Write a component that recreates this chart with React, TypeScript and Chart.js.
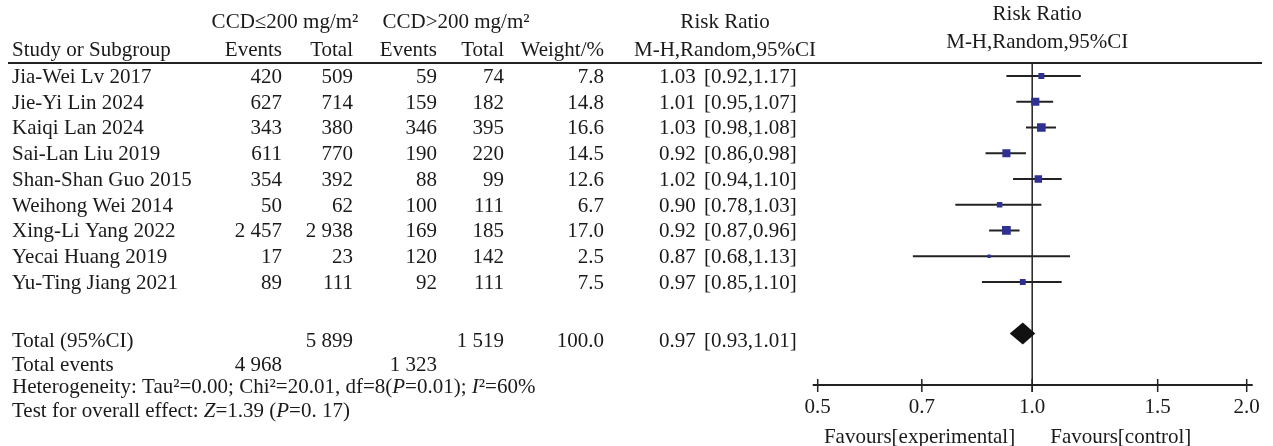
import React, { useEffect, useRef } from 'react';
import { Chart, registerables } from 'chart.js';

Chart.register(...registerables);

const studies = [
  'Jia-Wei Lv 2017',
  'Jie-Yi Lin 2024',
  'Kaiqi Lan 2024',
  'Sai-Lan Liu 2019',
  'Shan-Shan Guo 2015',
  'Weihong Wei 2014',
  'Xing-Li Yang 2022',
  'Yecai Huang 2019',
  'Yu-Ting Jiang 2021',
];
const expEvents = [420, 627, 343, 611, 354, 50, 2457, 17, 89];
const expTotal = [509, 714, 380, 770, 392, 62, 2938, 23, 111];
const ctrlEvents = [59, 159, 346, 190, 88, 100, 169, 120, 92];
const ctrlTotal = [74, 182, 395, 220, 99, 111, 185, 142, 111];
const weights = [7.8, 14.8, 16.6, 14.5, 12.6, 6.7, 17.0, 2.5, 7.5];
const riskRatio = [1.03, 1.01, 1.03, 0.92, 1.02, 0.9, 0.92, 0.87, 0.97];
const ciLower = [0.92, 0.95, 0.98, 0.86, 0.94, 0.78, 0.87, 0.68, 0.85];
const ciUpper = [1.17, 1.07, 1.08, 0.98, 1.1, 1.03, 0.96, 1.13, 1.1];

const overallRR = 0.97;
const overallLower = 0.93;
const overallUpper = 1.01;
const totalWeight = 100.0;
const xTicks = [0.5, 0.7, 1.0, 1.5, 2.0];

const FONT = "'Liberation Serif', 'Times New Roman', serif";
const FS = 21;
const TEXT = '#1a1a1a';

const fmtInt = (n: number) => String(n).replace(/\B(?=(\d{3})+(?!\d))/g, ' ');
const sum = (a: number[]) => a.reduce((s, v) => s + v, 0);

function drawText(ctx: CanvasRenderingContext2D, s: string, x: number, y: number, align: CanvasTextAlign = 'left', italic = false) {
  ctx.font = `${italic ? 'italic ' : ''}${FS}px ${FONT}`;
  ctx.textAlign = align;
  ctx.textBaseline = 'alphabetic';
  ctx.fillStyle = TEXT;
  ctx.fillText(s, x, y);
}

function drawRich(ctx: CanvasRenderingContext2D, parts: [string, boolean][], x: number, y: number) {
  let cx = x;
  for (const [s, it] of parts) {
    ctx.font = `${it ? 'italic ' : ''}${FS}px ${FONT}`;
    ctx.textAlign = 'left';
    ctx.textBaseline = 'alphabetic';
    ctx.fillStyle = TEXT;
    ctx.fillText(s, cx, y);
    cx += ctx.measureText(s).width;
  }
}

const forestPlugin = {
  id: 'forest',
  beforeDatasetsDraw(chart: any) {
    const ctx: CanvasRenderingContext2D = chart.ctx;
    const xs = chart.scales.x;
    const area = chart.chartArea;
    ctx.save();
    ctx.strokeStyle = '#222';
    // header rule
    ctx.lineWidth = 2;
    ctx.beginPath();
    ctx.moveTo(8, area.top);
    ctx.lineTo(1262, area.top);
    ctx.stroke();
    // line of no effect
    const x1 = xs.getPixelForValue(1);
    ctx.lineWidth = 1.5;
    ctx.beginPath();
    ctx.moveTo(x1, area.top);
    ctx.lineTo(x1, area.bottom + 7);
    ctx.stroke();
    // axis
    ctx.lineWidth = 2;
    ctx.beginPath();
    ctx.moveTo(area.left - 5, area.bottom);
    ctx.lineTo(area.right + 6, area.bottom);
    ctx.stroke();
    ctx.lineWidth = 1.5;
    for (const v of xTicks) {
      const px = xs.getPixelForValue(v);
      ctx.beginPath();
      ctx.moveTo(px, area.bottom - 6);
      ctx.lineTo(px, area.bottom + 7);
      ctx.stroke();
    }
    ctx.restore();
  },
  afterDatasetsDraw(chart: any) {
    const ctx: CanvasRenderingContext2D = chart.ctx;
    const xs = chart.scales.x;
    const ys = chart.scales.y;
    const area = chart.chartArea;
    ctx.save();
    // overall diamond
    const dy = ys.getPixelForValue(10);
    const h = 11;
    ctx.fillStyle = '#111';
    ctx.beginPath();
    ctx.moveTo(xs.getPixelForValue(overallLower), dy);
    ctx.lineTo(xs.getPixelForValue(overallRR), dy - h);
    ctx.lineTo(xs.getPixelForValue(overallUpper), dy);
    ctx.lineTo(xs.getPixelForValue(overallRR), dy + h);
    ctx.closePath();
    ctx.fill();

    // column positions
    const cStudy = 12;
    const cE1 = 282;
    const cT1 = 353;
    const cE2 = 437;
    const cT2 = 504;
    const cW = 604;
    const cRR = 659;
    const cCI = 704;
    const cRRhead = 725;
    const x1 = xs.getPixelForValue(1);

    // header
    const h1 = area.top - 35;
    const h2 = area.top - 7;
    drawText(ctx, 'CCD\u2264200 mg/m\u00b2', 285, h1, 'center');
    drawText(ctx, 'CCD>200 mg/m\u00b2', 456, h1, 'center');
    drawText(ctx, 'Risk Ratio', cRRhead, h1, 'center');
    drawText(ctx, 'Study or Subgroup', cStudy, h2);
    drawText(ctx, 'Events', cE1, h2, 'right');
    drawText(ctx, 'Total', cT1, h2, 'right');
    drawText(ctx, 'Events', cE2, h2, 'right');
    drawText(ctx, 'Total', cT2, h2, 'right');
    drawText(ctx, 'Weight/%', cW, h2, 'right');
    drawText(ctx, 'M-H,Random,95%CI', cRRhead, h2, 'center');
    drawText(ctx, 'Risk Ratio', x1 + 5, area.top - 43, 'center');
    drawText(ctx, 'M-H,Random,95%CI', x1 + 5, area.top - 15, 'center');

    // study rows
    studies.forEach((s, i) => {
      const y = ys.getPixelForValue(i) + 7;
      drawText(ctx, s, cStudy, y);
      drawText(ctx, fmtInt(expEvents[i]), cE1, y, 'right');
      drawText(ctx, fmtInt(expTotal[i]), cT1, y, 'right');
      drawText(ctx, fmtInt(ctrlEvents[i]), cE2, y, 'right');
      drawText(ctx, fmtInt(ctrlTotal[i]), cT2, y, 'right');
      drawText(ctx, weights[i].toFixed(1), cW, y, 'right');
      drawText(ctx, riskRatio[i].toFixed(2), cRR, y);
      drawText(ctx, `[${ciLower[i].toFixed(2)},${ciUpper[i].toFixed(2)}]`, cCI, y);
    });

    // totals
    const yt = ys.getPixelForValue(10.25) + 7;
    drawText(ctx, 'Total (95%CI)', cStudy, yt);
    drawText(ctx, fmtInt(sum(expTotal)), cT1, yt, 'right');
    drawText(ctx, fmtInt(sum(ctrlTotal)), cT2, yt, 'right');
    drawText(ctx, totalWeight.toFixed(1), cW, yt, 'right');
    drawText(ctx, overallRR.toFixed(2), cRR, yt);
    drawText(ctx, `[${overallLower.toFixed(2)},${overallUpper.toFixed(2)}]`, cCI, yt);

    const ye = ys.getPixelForValue(11.17) + 7;
    drawText(ctx, 'Total events', cStudy, ye);
    drawText(ctx, fmtInt(sum(expEvents)), cE1, ye, 'right');
    drawText(ctx, fmtInt(sum(ctrlEvents)), cE2, ye, 'right');

    const yh = ys.getPixelForValue(12.05) + 7;
    drawRich(ctx, [
      ['Heterogeneity: Tau\u00b2=0.00; Chi\u00b2=20.01, df=8(', false],
      ['P', true],
      ['=0.01); ', false],
      ['I', true],
      ['\u00b2=60%', false],
    ], cStudy, yh);
    const yz = ys.getPixelForValue(12.97) + 7;
    drawRich(ctx, [
      ['Test for overall effect: ', false],
      ['Z', true],
      ['=1.39 (', false],
      ['P', true],
      ['=0. 17)', false],
    ], cStudy, yz);

    // favours labels
    const yf = area.bottom + 58;
    drawText(ctx, 'Favours[experimental]', x1 - 17, yf, 'right');
    drawText(ctx, 'Favours[control]', x1 + 18, yf, 'left');
    ctx.restore();
  },
};

export default function App() {
  const ref = useRef<HTMLCanvasElement | null>(null);
  useEffect(() => {
    if (!ref.current) return;
    const ciDatasets = studies.map((s, i) => ({
      type: 'scatter' as const,
      label: s,
      showLine: true,
      data: [
        { x: ciLower[i], y: i },
        { x: ciUpper[i], y: i },
      ],
      borderColor: '#222',
      borderWidth: 2,
      pointRadius: 0,
      order: 2,
    }));
    const markers = {
      type: 'scatter' as const,
      label: 'Risk Ratio',
      data: riskRatio.map((r, i) => ({ x: r, y: i })),
      pointStyle: 'rect',
      pointRadius: weights.map((w) => 1.5 * Math.sqrt(w)),
      backgroundColor: '#2e3192',
      borderColor: '#2e3192',
      borderWidth: 0,
      order: 1,
    };
    const chart = new Chart(ref.current, {
      type: 'scatter',
      data: { datasets: [...ciDatasets, markers] as any },
      options: {
        animation: false,
        responsive: false,
        events: [],
        layout: { padding: { left: 817.7, right: 26.3, top: 63.1, bottom: 0 } },
        plugins: { legend: { display: false }, tooltip: { enabled: false } },
        scales: {
          x: {
            type: 'logarithmic',
            min: 0.5,
            max: 2,
            afterBuildTicks: (s: any) => {
              s.ticks = xTicks.map((v) => ({ value: v }));
            },
            afterFit: (s: any) => {
              s.height = 61;
            },
            ticks: {
              callback: (v: any) => Number(v).toFixed(1),
              font: { family: FONT, size: FS },
              color: TEXT,
              padding: 2,
              autoSkip: false,
              maxRotation: 0,
            },
            grid: { display: false },
            border: { display: false },
          },
          y: {
            type: 'linear',
            min: -0.5,
            max: 12,
            reverse: true,
            display: false,
          },
        },
      } as any,
      plugins: [forestPlugin],
    });
    return () => chart.destroy();
  }, []);
  return (
    <div style={{ position: 'absolute', left: 0, top: 0, width: 1273, height: 446, background: '#fff' }}>
      <canvas ref={ref} width={1273} height={446} />
    </div>
  );
}
